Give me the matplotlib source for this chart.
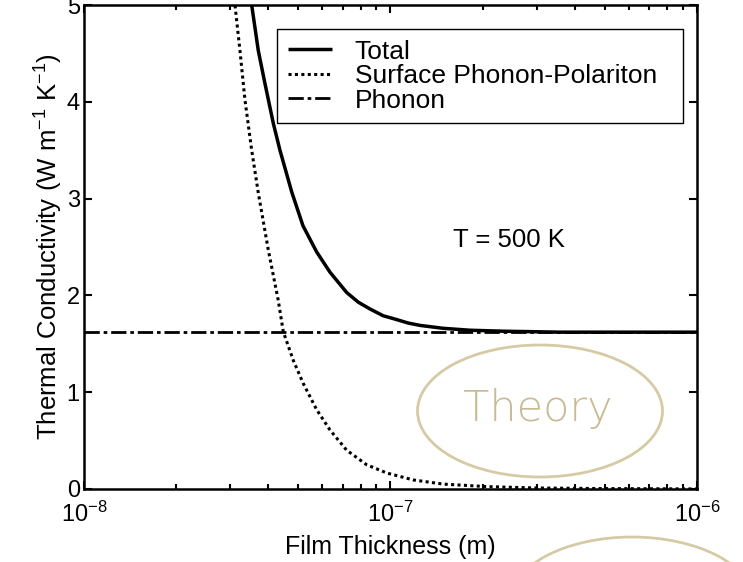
import numpy as np
import matplotlib
matplotlib.use('Agg')
import matplotlib.pyplot as plt
from matplotlib.patches import Ellipse
from matplotlib.ticker import LogLocator, LogFormatterMathtext, NullFormatter

plt.rcParams['font.family'] = ['Liberation Sans', 'DejaVu Sans']
plt.rcParams['mathtext.fontset'] = 'custom'
plt.rcParams['mathtext.rm'] = 'Liberation Sans'
plt.rcParams['mathtext.default'] = 'regular'

#-------------------------------------------------------------------------------
# Data: film thickness [m] vs thermal conductivity [W m-1 K-1], T = 500 K
#-------------------------------------------------------------------------------
total_d = [3.40e-8, 3.526e-8, 3.705e-8, 3.895e-8, 4.146e-8, 4.36e-8, 4.762e-8,
           5.182e-8, 5.742e-8, 6.347e-8, 7.197e-8, 7.85e-8, 8.573e-8, 9.46e-8,
           1.048e-7, 1.14e-7, 1.248e-7, 1.484e-7, 1.817e-7, 2.328e-7, 3.573e-7, 1.0e-6]
total_k = [5.35, 5.00, 4.53, 4.19, 3.78, 3.50, 3.07,
           2.72, 2.45, 2.24, 2.03, 1.93, 1.86, 1.79,
           1.75, 1.715, 1.69, 1.66, 1.64, 1.63, 1.62, 1.62]

spp_d = [2.995e-8, 3.11e-8, 3.228e-8, 3.352e-8, 3.526e-8, 3.705e-8, 3.994e-8,
         4.304e-8, 4.47e-8, 4.818e-8, 5.194e-8, 5.742e-8, 6.347e-8, 7.197e-8,
         8.363e-8, 9.719e-8, 1.187e-7, 1.487e-7, 2.061e-7, 3.0e-7, 4.83e-7, 1.0e-6]
spp_k = [5.45, 5.00, 4.53, 4.02, 3.50, 3.06, 2.47,
         1.95, 1.625, 1.33, 1.09, 0.82, 0.61, 0.40,
         0.25, 0.165, 0.093, 0.05, 0.024, 0.01, 0.004, 0.0]

phonon_d = [1.0e-8, 1.0e-6]
phonon_k = [1.62, 1.62]

series_names = ['Total', 'Surface Phonon-Polariton', 'Phonon']
note_text    = 'T = 500 K'
stamp_text   = 'Theory'

#-------------------------------------------------------------------------------
# Figure
#-------------------------------------------------------------------------------
fig = plt.figure(figsize=(7.43, 5.62), dpi=100)
ax  = fig.add_axes([0.113, 0.130, 0.825, 0.861])

ax.plot(total_d, total_k, color='black', lw=2.5, ls='solid',
        solid_capstyle='butt', solid_joinstyle='round', label=series_names[0])
ax.plot(spp_d, spp_k, color='black', lw=2.2, ls=(0, (1, 1.1)),
        dash_capstyle='butt', label=series_names[1])
ax.plot(phonon_d, phonon_k, color='black', lw=2.0, ls=(0, (5.5, 1.4, 1.3, 1.4)),
        dash_capstyle='butt', label=series_names[2])

ax.set_xscale('log')
ax.set_xlim(1e-8, 1e-6)
ax.set_ylim(0, 5)
ax.set_yticks([0, 1, 2, 3, 4, 5])
ax.xaxis.set_major_locator(LogLocator(base=10, numticks=5))
ax.xaxis.set_major_formatter(LogFormatterMathtext())
ax.xaxis.set_minor_locator(LogLocator(base=10, subs=np.arange(2, 10), numticks=20))
ax.xaxis.set_minor_formatter(NullFormatter())

for s in ax.spines.values():
    s.set_linewidth(1.8)
ax.tick_params(which='both', direction='in', top=True, right=True, width=1.5)
ax.tick_params(which='major', length=6, labelsize=17)
ax.tick_params(which='minor', length=3.5)
ax.tick_params(axis='x', pad=9)
ax.tick_params(axis='y', pad=3)

ax.set_xlabel('Film Thickness (m)', fontsize=18, labelpad=6)
ax.set_ylabel('Thermal Conductivity (W m$^{-1}$ K$^{-1}$)', fontsize=18.5, labelpad=1)

leg = ax.legend(loc='upper left', mode='expand',
                bbox_to_anchor=(277/743, 1-126/562, 406/743, 97/562),
                bbox_transform=fig.transFigure, fontsize=19, frameon=True,
                fancybox=False, framealpha=1, edgecolor='black',
                handlelength=1.7, handletextpad=0.85, labelspacing=0.02,
                borderpad=0.4, borderaxespad=0)
leg.get_frame().set_linewidth(1.0)

fig.text(453/743, 1-247/562, note_text, fontsize=18.5, ha='left', va='baseline')

# "Theory" badge, plus the next one peeking in from below
tan_edge = '#d6caa5'
for cx, cy in [(540, 411), (632, 603)]:
    fig.add_artist(Ellipse((cx/743, 1-cy/562), 245/743, 132/562,
                           transform=fig.transFigure, facecolor='white',
                           edgecolor=tan_edge, lw=2.0, zorder=5))
fig.text(538/743, 1-421/562, stamp_text, fontsize=31, color='#c8bb93',
         family='DejaVu Sans', weight='light', ha='center', va='baseline', zorder=6)

fig.savefig('out.png', dpi=100)
